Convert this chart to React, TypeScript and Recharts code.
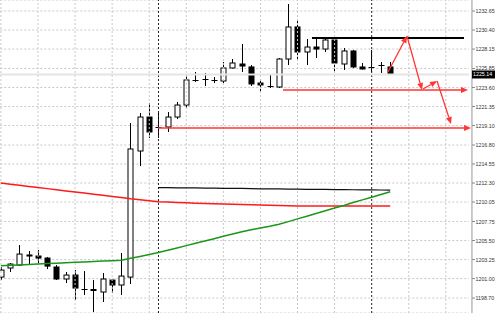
import React from "react"
import { ComposedChart, Bar, Line, XAxis, YAxis, CartesianGrid, ReferenceLine } from "recharts"

// H1 candles (index 0 = leftmost bar)
const opens = [1201.18, 1202.25, 1202.6, 1203.79, 1203.67, 1203.43, 1202.37, 1200.95, 1201.42, 1199.77, 1199.71, 1199.41, 1200.83, 1200.24, 1201.18, 1216.09, 1220.11, 1218.93, 1218.93, 1220.11, 1221.53, 1224.49, 1224.61, 1224.49, 1224.37, 1225.91, 1226.38, 1226.03, 1224.13, 1223.78, 1223.66, 1226.97, 1230.76, 1227.8, 1228.39, 1228.15, 1229.22, 1226.38, 1227.92, 1226.03, 1226.03, 1226.26, 1226.03]
const highs = [1202.37, 1202.84, 1204.97, 1204.26, 1204.38, 1203.55, 1202.6, 1201.78, 1202.01, 1201.89, 1200.83, 1201.66, 1200.95, 1204.02, 1219.4, 1220.58, 1221.77, 1220.58, 1220.7, 1221.89, 1225.08, 1225.43, 1225.32, 1224.84, 1226.62, 1226.97, 1228.75, 1226.26, 1224.61, 1225.08, 1227.09, 1233.48, 1231.7, 1229.34, 1229.34, 1229.57, 1229.34, 1228.27, 1228.04, 1226.5, 1228.04, 1226.62, 1226.62]
const lows = [1200.83, 1201.78, 1202.48, 1202.6, 1202.84, 1202.13, 1200.83, 1200.47, 1198.47, 1199.06, 1197.04, 1198.23, 1199.29, 1199.06, 1200.36, 1214.31, 1217.63, 1217.63, 1218.34, 1219.87, 1221.18, 1224.25, 1223.78, 1224.13, 1224.13, 1225.85, 1225.43, 1223.78, 1223.07, 1223.54, 1223.54, 1226.26, 1226.74, 1226.26, 1227.09, 1227.8, 1225.43, 1225.67, 1225.91, 1225.73, 1225.43, 1225.32, 1225.1]
const closes = [1202.01, 1202.72, 1203.9, 1203.67, 1203.43, 1202.48, 1200.95, 1201.42, 1199.88, 1199.7, 1199.59, 1200.95, 1200.24, 1201.3, 1216.33, 1220.11, 1218.34, 1218.87, 1220.11, 1221.53, 1224.49, 1224.43, 1224.55, 1224.43, 1225.91, 1226.5, 1226.14, 1224.02, 1223.9, 1223.72, 1226.97, 1230.76, 1227.8, 1228.39, 1228.15, 1229.22, 1226.5, 1227.92, 1226.03, 1225.79, 1225.97, 1226.2, 1225.14]

// moving averages
const maRed = [1212.3, 1212.17, 1212.03, 1211.9, 1211.77, 1211.64, 1211.5, 1211.37, 1211.24, 1211.12, 1210.98, 1210.85, 1210.72, 1210.59, 1210.44, 1210.32, 1210.2, 1210.1, 1210.06, 1210.01, 1209.96, 1209.91, 1209.88, 1209.84, 1209.81, 1209.78, 1209.75, 1209.73, 1209.7, 1209.68, 1209.64, 1209.62, 1209.6, 1209.58, 1209.58, 1209.58, 1209.58, 1209.58, 1209.58, 1209.58, 1209.58, 1209.58, 1209.58]
const maGreen = [1202.52, 1202.57, 1202.62, 1202.68, 1202.72, 1202.77, 1202.82, 1202.88, 1202.92, 1202.97, 1203.02, 1203.08, 1203.12, 1203.17, 1203.4, 1203.62, 1203.85, 1204.08, 1204.34, 1204.62, 1204.9, 1205.17, 1205.44, 1205.72, 1206.0, 1206.27, 1206.54, 1206.77, 1206.98, 1207.19, 1207.43, 1207.74, 1208.06, 1208.38, 1208.7, 1209.02, 1209.34, 1209.65, 1209.99, 1210.31, 1210.62, 1210.94, 1211.26]
const maBlack = [null, null, null, null, null, null, null, null, null, null, null, null, null, null, null, null, null, 1211.76, 1211.75, 1211.74, 1211.73, 1211.72, 1211.7, 1211.69, 1211.68, 1211.67, 1211.66, 1211.64, 1211.62, 1211.61, 1211.6, 1211.59, 1211.57, 1211.56, 1211.55, 1211.54, 1211.53, 1211.52, 1211.51, 1211.5, 1211.49, 1211.48, 1211.47]

const priceTicks = [1232.65, 1230.4, 1228.15, 1225.85, 1223.6, 1221.35, 1219.1, 1216.8, 1214.55, 1212.3, 1210.05, 1207.75, 1205.5, 1203.25, 1201.0, 1198.7]
const bidPrice = 1225.14
const slotCount = 51 // 43 bars + empty space on the right
const gridSlots = [0, 4, 8, 12, 16, 20, 24, 28, 32, 36, 44, 48]
const dayBreaks = [17, 40]
const axisSlot = 50.82

// hand-drawn objects (x in bar slots, y in price)
const levelX = [33.56, 49.96]
const levelY = 1229.46
const arrowX1 = [30.43, 16.95, 41.76, 43.81, 45.54, 47.05]
const arrowY1 = [1223.3, 1218.81, 1225.43, 1229.69, 1223.42, 1224.37]
const arrowX2 = [50.39, 50.72, 43.81, 45.43, 47.05, 48.56]
const arrowY2 = [1223.3, 1218.81, 1229.69, 1223.3, 1224.37, 1219.28]
const arrowW = [1.6, 1.6, 1.3, 1.3, 1.3, 1.3]

const RED = "#ff3434"
const FONT = "Liberation Sans, Arial, sans-serif"

function Candle(props: any) {
    const { x, y, width, height, payload } = props
    if (!payload || payload.open == null) return null
    const { open, high, low, close } = payload
    const top = Math.min(y, y + height)
    const h = Math.abs(height)
    const range = high - low || 1
    const py = (v: number) => top + ((high - v) / range) * h
    const cx = Math.round(x + width / 2) + 0.5
    const bull = close >= open
    const bTop = py(Math.max(open, close))
    const bBot = py(Math.min(open, close))
    return (
        <g>
            <line x1={cx} x2={cx} y1={py(high)} y2={py(low)} stroke="#000" />
            {bBot - bTop < 1 ? (
                <line x1={cx - 3} x2={cx + 3} y1={Math.round(bTop) + 0.5} y2={Math.round(bTop) + 0.5} stroke="#000" />
            ) : (
                <rect x={cx - 2.5} y={bTop} width={5} height={bBot - bTop} fill={bull ? "#fff" : "#000"} stroke="#000" />
            )}
        </g>
    )
}

const arrowShape = (w: number) => (p: any) => {
    const { x1, y1, x2, y2 } = p
    const a = Math.atan2(y2 - y1, x2 - x1)
    const L = 7
    const W = 3
    const bx = x2 - L * Math.cos(a)
    const by = y2 - L * Math.sin(a)
    const pts = `${x2},${y2} ${bx - W * Math.sin(a)},${by + W * Math.cos(a)} ${bx + W * Math.sin(a)},${by - W * Math.cos(a)}`
    return (
        <g>
            <line x1={x1} y1={y1} x2={bx} y2={by} stroke={RED} strokeWidth={w} />
            <polygon points={pts} fill={RED} />
        </g>
    )
}

function PriceTick(props: any) {
    const { x, y, payload } = props
    return (
        <g>
            <line x1={x + 3} x2={x + 6} y1={y} y2={y} stroke="#888" />
            <text x={x + 6.5} y={y + 2} fontSize={5.3} fontFamily={FONT} fill="#333">
                {payload.value.toFixed(2)}
            </text>
        </g>
    )
}

function BidTag(props: any) {
    const { x, y, width } = props.viewBox
    const right = x + width
    return (
        <g>
            <rect x={right + 3} y={y - 4} width={26} height={8} fill="#000" />
            <text x={right + 4} y={y + 2} fontSize={5.3} fontFamily={FONT} fill="#fff">
                {bidPrice.toFixed(2)}
            </text>
        </g>
    )
}

export default function App() {
    const rows = Array.from({ length: slotCount }).map((_, i) => ({
        i,
        slot: String(i),
        open: opens[i],
        high: highs[i],
        low: lows[i],
        close: closes[i],
        maRed: maRed[i],
        maGreen: maGreen[i],
        maBlack: maBlack[i],
    }))

    return (
        <div style={{ position: "absolute", left: 0, top: 0, width: 495, height: 313, background: "#fff", overflow: "hidden" }}>
            <ComposedChart width={495} height={313} data={rows} margin={{ top: 0, right: 0, bottom: 0, left: -3.72 }}>
                <XAxis dataKey="slot" scale="band" hide />
                <XAxis xAxisId="num" dataKey="i" type="number" domain={[-0.5, 50.5]} allowDataOverflow hide />
                <YAxis
                    orientation="right"
                    type="number"
                    width={26}
                    domain={[1196.93, 1233.95]}
                    allowDataOverflow
                    ticks={priceTicks}
                    interval={0}
                    axisLine={false}
                    tickLine={false}
                    tickSize={0}
                    tickMargin={0}
                    tick={<PriceTick />}
                />
                <CartesianGrid vertical={false} stroke="#c8c8c8" strokeDasharray="2 2" />
                {gridSlots.map((s) => (
                    <ReferenceLine key={"g" + s} xAxisId="num" x={s} stroke="#c8c8c8" strokeDasharray="2 2" />
                ))}
                {dayBreaks.map((s) => (
                    <ReferenceLine key={"d" + s} xAxisId="num" x={s} stroke="#222" strokeDasharray="2 2" />
                ))}
                <ReferenceLine xAxisId="num" x={axisSlot} stroke="#999" ifOverflow="visible" />
                <ReferenceLine y={bidPrice} stroke="#e4e4e4" strokeWidth={2} label={(p: any) => <BidTag viewBox={p.viewBox} />} />
                <Bar dataKey={(d: any) => (d.open == null ? null : [d.low, d.high])} shape={<Candle />} isAnimationActive={false} />
                <Line dataKey="maRed" stroke="#ff1a1a" strokeWidth={1.5} dot={false} activeDot={false} isAnimationActive={false} />
                <Line dataKey="maGreen" stroke="#1a961a" strokeWidth={1.5} dot={false} activeDot={false} isAnimationActive={false} />
                <Line dataKey="maBlack" stroke="#111" strokeWidth={1.2} dot={false} activeDot={false} isAnimationActive={false} />
                <ReferenceLine
                    xAxisId="num"
                    segment={[{ x: levelX[0], y: levelY }, { x: levelX[1], y: levelY }]}
                    stroke="#000"
                    strokeWidth={2}
                    ifOverflow="visible"
                />
                {arrowX1.map((_, k) => (
                    <ReferenceLine
                        key={"a" + k}
                        xAxisId="num"
                        segment={[{ x: arrowX1[k], y: arrowY1[k] }, { x: arrowX2[k], y: arrowY2[k] }]}
                        ifOverflow="visible"
                        shape={arrowShape(arrowW[k])}
                    />
                ))}
            </ComposedChart>
        </div>
    )
}
